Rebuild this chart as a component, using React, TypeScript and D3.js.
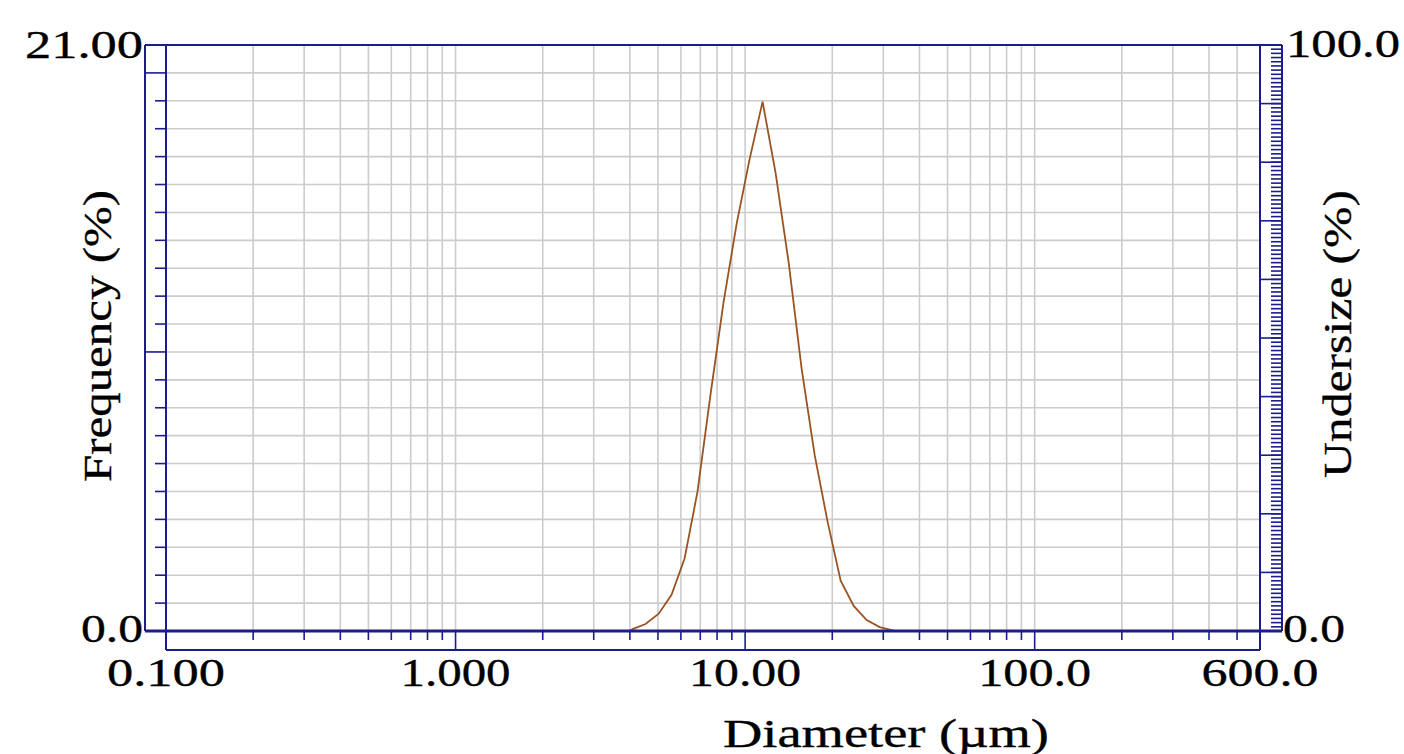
import React, { useRef, useEffect } from 'react';
import * as d3 from 'd3';

// particle size distribution
const diameters = [3.99, 4.09, 4.53, 5.03, 5.57, 6.18, 6.85, 7.6, 8.43, 9.35, 10.36, 11.49,
  12.75, 14.14, 15.67, 17.39, 19.28, 21.38, 23.71, 26.29, 29.15, 32.33, 32.85];
const frequency = [0, 0.07, 0.25, 0.62, 1.3, 2.6, 5.0, 8.5, 11.8, 14.6, 16.9, 18.97,
  16.4, 13.2, 9.4, 6.3, 3.9, 1.8, 0.9, 0.39, 0.14, 0.02, 0];

const xTickValues = [0.1, 1, 10, 100, 600];
const xTickLabels = ['0.100', '1.000', '10.00', '100.0', '600.0'];
const yLeftLabels = ['0.0', '21.00'];
const yRightLabels = ['0.0', '100.0'];

const App = () => {
  const ref = useRef<HTMLDivElement>(null);

  useEffect(() => {
    d3.select(ref.current).select('svg').remove();

    const W = 1404, H = 754;
    const left = 166, right = 1260, top = 45, bottom = 631;
    const leftOuter = 145, rightOuter = 1282, bottomOuter = 650;
    const navy = '#1c1c8e';
    const font = '"Liberation Serif", "Times New Roman", serif';

    const svg = d3.select(ref.current)
      .append('svg')
      .attr('width', W)
      .attr('height', H)
      .style('position', 'absolute')
      .style('left', '0px')
      .style('top', '0px')
      .style('background', '#fff');

    const x = d3.scaleLog().domain([0.1, 600]).range([left, right]);
    const y = d3.scaleLinear().domain([0, 21]).range([bottom, top]);
    const y2 = d3.scaleLinear().domain([0, 100]).range([bottom, top]);

    // log grid values inside the plot
    const logVals: number[] = [];
    [0.1, 1, 10, 100].forEach(dec => {
      for (let k = 1; k <= 9; k++) {
        const v = dec * k;
        if (v > 0.1 && v < 600) logVals.push(v);
      }
    });

    const grid = svg.append('g').attr('stroke', '#cccccc').attr('stroke-width', 1.6);
    grid.selectAll('line.v').data(logVals).enter().append('line')
      .attr('x1', d => x(d)).attr('x2', d => x(d))
      .attr('y1', top).attr('y2', bottom);
    grid.selectAll('line.h').data(d3.range(1, 21)).enter().append('line')
      .attr('x1', left).attr('x2', right)
      .attr('y1', d => y(d)).attr('y2', d => y(d));

    // frequency curve
    const pts: [number, number][] = diameters.map((d, i) => [d, frequency[i]]);
    const line = d3.line<[number, number]>().x(d => x(d[0])).y(d => y(d[1]));
    svg.append('path')
      .datum(pts)
      .attr('d', line)
      .attr('fill', 'none')
      .attr('stroke', '#9a5424')
      .attr('stroke-width', 1.8);

    // axis frames
    const frame = svg.append('g').attr('stroke', navy).attr('stroke-width', 2).attr('fill', 'none');
    frame.append('line').attr('x1', leftOuter).attr('x2', rightOuter).attr('y1', top).attr('y2', top);
    frame.append('line').attr('x1', leftOuter).attr('x2', leftOuter).attr('y1', top).attr('y2', bottom);
    frame.append('line').attr('x1', left).attr('x2', left).attr('y1', top).attr('y2', bottomOuter);
    frame.append('line').attr('x1', right).attr('x2', right).attr('y1', top).attr('y2', bottomOuter);
    frame.append('line').attr('x1', rightOuter).attr('x2', rightOuter).attr('y1', top).attr('y2', bottom);
    frame.append('line').attr('x1', left).attr('x2', right).attr('y1', bottomOuter).attr('y2', bottomOuter);
    frame.append('line').attr('x1', leftOuter).attr('x2', rightOuter).attr('y1', bottom).attr('y2', bottom)
      .attr('stroke-width', 3);

    // left ticks
    const ticks = svg.append('g').attr('stroke', navy).attr('stroke-width', 1.6);
    ticks.selectAll('line.l').data(d3.range(1, 21)).enter().append('line')
      .attr('x1', d => (d % 10 === 0 ? leftOuter : 155)).attr('x2', left)
      .attr('y1', d => y(d)).attr('y2', d => y(d));

    // right ticks
    const minorPerMajor = 14;
    const rightTicks = d3.range(1, 10 * minorPerMajor).map(i => (i * 10) / minorPerMajor);
    ticks.selectAll('line.rm').data(rightTicks).enter().append('line')
      .attr('x1', 1271).attr('x2', rightOuter)
      .attr('y1', d => y2(d)).attr('y2', d => y2(d));
    ticks.selectAll('line.rM').data(d3.range(10, 100, 10)).enter().append('line')
      .attr('x1', right).attr('x2', rightOuter)
      .attr('y1', d => y2(d)).attr('y2', d => y2(d));

    // bottom ticks
    const majors = [1, 10, 100];
    ticks.selectAll('line.b').data(logVals).enter().append('line')
      .attr('x1', d => x(d)).attr('x2', d => x(d))
      .attr('y1', bottom)
      .attr('y2', d => (majors.includes(d) ? bottomOuter : 640));

    // labels
    const txt = svg.append('g').attr('font-family', font).attr('fill', '#000')
      .attr('stroke', '#000').attr('stroke-width', 0.35);
    const xw = [118, 110, 112, 113, 117];
    txt.selectAll('text.x').data(xTickValues).enter().append('text')
      .attr('x', d => x(d)).attr('y', 686)
      .attr('text-anchor', 'middle')
      .attr('font-size', 40)
      .attr('textLength', (d, i) => xw[i])
      .attr('lengthAdjust', 'spacingAndGlyphs')
      .text((d, i) => xTickLabels[i]);

    txt.append('text').attr('x', 143).attr('y', 58).attr('text-anchor', 'end')
      .attr('font-size', 39).attr('textLength', 118).attr('lengthAdjust', 'spacingAndGlyphs')
      .text(yLeftLabels[1]);
    txt.append('text').attr('x', 143).attr('y', y(0) + 11).attr('text-anchor', 'end')
      .attr('font-size', 39).attr('textLength', 62).attr('lengthAdjust', 'spacingAndGlyphs')
      .text(yLeftLabels[0]);
    txt.append('text').attr('x', 1286).attr('y', 57)
      .attr('font-size', 39).attr('textLength', 114).attr('lengthAdjust', 'spacingAndGlyphs')
      .text(yRightLabels[1]);
    txt.append('text').attr('x', 1283).attr('y', y2(0) + 11)
      .attr('font-size', 39).attr('textLength', 62).attr('lengthAdjust', 'spacingAndGlyphs')
      .text(yRightLabels[0]);

    txt.append('text').attr('x', 886).attr('y', 747).attr('text-anchor', 'middle')
      .attr('font-size', 39).attr('textLength', 326).attr('lengthAdjust', 'spacingAndGlyphs')
      .text('Diameter (µm)');
    txt.append('text').attr('transform', 'translate(111,336) rotate(-90)').attr('text-anchor', 'middle')
      .attr('font-size', 41).attr('textLength', 292).attr('lengthAdjust', 'spacingAndGlyphs')
      .text('Frequency (%)');
    txt.append('text').attr('transform', 'translate(1351,334) rotate(-90)').attr('text-anchor', 'middle')
      .attr('font-size', 41).attr('textLength', 288).attr('lengthAdjust', 'spacingAndGlyphs')
      .text('Undersize (%)');
  }, []);

  return <div ref={ref} />;
};

export default App;
